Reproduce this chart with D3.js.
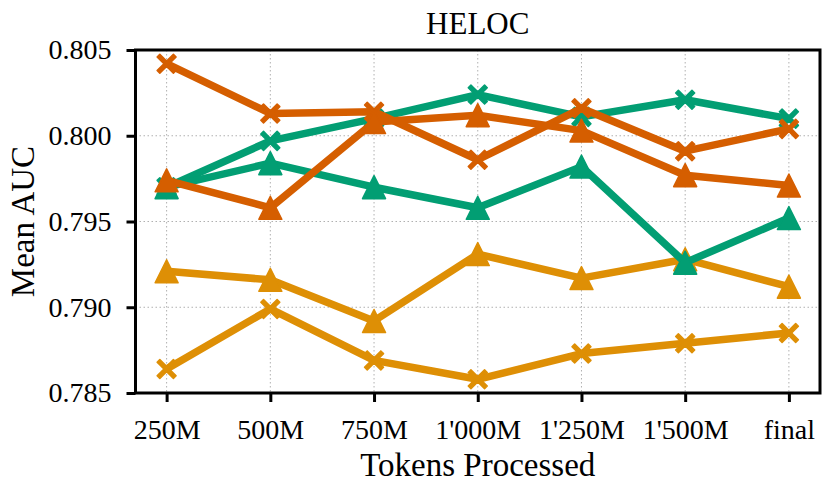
<!DOCTYPE html>
<html>
<head>
<meta charset="utf-8">
<script src="https://cdn.jsdelivr.net/npm/d3@7"></script>
<style>
  body { margin: 0; background: #fff; }
  svg text { font-family: "Liberation Serif", "Times New Roman", serif; fill: #000; }
</style>
</head>
<body>
<div id="chart"></div>
<script>
const categories = ["250M", "500M", "750M", "1'000M", "1'250M", "1'500M", "final"];
const yTicks = [0.785, 0.790, 0.795, 0.800, 0.805];

// one array per run
const amberCross = [0.7864, 0.7899, 0.7869, 0.7858, 0.7873, 0.7879, 0.7885];
const amberTri   = [0.7921, 0.7916, 0.7892, 0.7931, 0.7917, 0.7928, 0.7912];
const greenCross = [0.7970, 0.7997, 0.8010, 0.8024, 0.8011, 0.8021, 0.8010];
const greenTri   = [0.7970, 0.7984, 0.7970, 0.7958, 0.7982, 0.7926, 0.7952];
const orangeCross = [0.8042, 0.8013, 0.8014, 0.7986, 0.8016, 0.7991, 0.8004];
const orangeTri   = [0.7974, 0.7958, 0.8008, 0.8012, 0.8003, 0.7977, 0.7971];

const series = [
  { values: amberCross, color: "#de8f05", marker: "x" },
  { values: amberTri, color: "#de8f05", marker: "tri" },
  { values: greenCross, color: "#029e73", marker: "x" },
  { values: greenTri, color: "#029e73", marker: "tri" },
  { values: orangeCross, color: "#d55e00", marker: "x" },
  { values: orangeTri, color: "#d55e00", marker: "tri" }
];

const width = 829, height = 492;
const plotLeft = 135.5, plotRight = 820, plotTop = 50, plotBottom = 393;

const svg = d3.select("#chart").append("svg")
    .attr("width", width)
    .attr("height", height);

const x = d3.scaleLinear().domain([-0.3, categories.length - 0.7]).range([plotLeft, plotRight]);
const y = d3.scaleLinear().domain([0.785, 0.805]).range([plotBottom, plotTop]);

// grid
const grid = svg.append("g").attr("stroke", "#b0b0b0").attr("stroke-width", 1).attr("stroke-dasharray", "1.5,2.5");
grid.selectAll(".gx").data(categories).join("line")
    .attr("x1", (d, i) => x(i)).attr("x2", (d, i) => x(i))
    .attr("y1", plotTop).attr("y2", plotBottom);
grid.selectAll(".gy").data(yTicks).join("line")
    .attr("x1", plotLeft).attr("x2", plotRight)
    .attr("y1", d => y(d)).attr("y2", d => y(d));

// axes
const xAxis = d3.axisBottom(x)
    .tickValues(d3.range(categories.length))
    .tickFormat(i => categories[i])
    .tickSizeInner(9).tickSizeOuter(0).tickPadding(17);
const yAxis = d3.axisLeft(y)
    .tickValues(yTicks)
    .tickFormat(d3.format(".3f"))
    .tickSizeInner(9).tickSizeOuter(0).tickPadding(15);

const gx = svg.append("g").attr("transform", `translate(0,${plotBottom})`).call(xAxis);
const gy = svg.append("g").attr("transform", `translate(${plotLeft},0)`).call(yAxis);
[gx, gy].forEach(g => {
  g.attr("font-family", null);
  g.select(".domain").remove();
  g.selectAll(".tick line").attr("stroke", "#000").attr("stroke-width", 3);
  g.selectAll(".tick text").attr("font-size", 28).attr("fill", "#000");
});
gx.selectAll(".tick text").attr("dy", "0.72em");

// lines and markers
const line = d3.line().x((d, i) => x(i)).y(d => y(d));

function markerPath(type) {
  if (type === "tri") {
    const h = 11.5;
    return `M0,${-h}L${h},${h}L${-h},${h}Z`;
  }
  const a = 9.5, w = 2.7;
  return `M${-a},${-a + w}L${-a + w},${-a}L0,${-w}L${a - w},${-a}L${a},${-a + w}L${w},0` +
         `L${a},${a - w}L${a - w},${a}L0,${w}L${-a + w},${a}L${-a},${a - w}L${-w},0Z`;
}

series.forEach(s => {
  const g = svg.append("g");
  g.append("path")
      .datum(s.values)
      .attr("d", line)
      .attr("fill", "none")
      .attr("stroke", s.color)
      .attr("stroke-width", 7.5)
      .attr("stroke-linejoin", "round");
  g.selectAll("path.m").data(s.values).join("path")
      .attr("class", "m")
      .attr("transform", (d, i) => `translate(${x(i)},${y(d)})`)
      .attr("d", markerPath(s.marker))
      .attr("fill", s.color)
      .attr("stroke", s.color)
      .attr("stroke-width", 1.5)
      .attr("stroke-linejoin", "round");
});

// frame
svg.append("rect")
    .attr("x", plotLeft).attr("y", plotTop)
    .attr("width", plotRight - plotLeft).attr("height", plotBottom - plotTop)
    .attr("fill", "none").attr("stroke", "#000").attr("stroke-width", 3);

// labels
svg.append("text")
    .attr("x", (plotLeft + plotRight) / 2).attr("y", 34)
    .attr("text-anchor", "middle").attr("font-size", 31)
    .text("HELOC");

svg.append("text")
    .attr("x", (plotLeft + plotRight) / 2).attr("y", 476)
    .attr("text-anchor", "middle").attr("font-size", 33)
    .text("Tokens Processed");

svg.append("text")
    .attr("transform", `translate(34,${(plotTop + plotBottom) / 2}) rotate(-90)`)
    .attr("text-anchor", "middle").attr("font-size", 33)
    .text("Mean AUC");
</script>
</body>
</html>
